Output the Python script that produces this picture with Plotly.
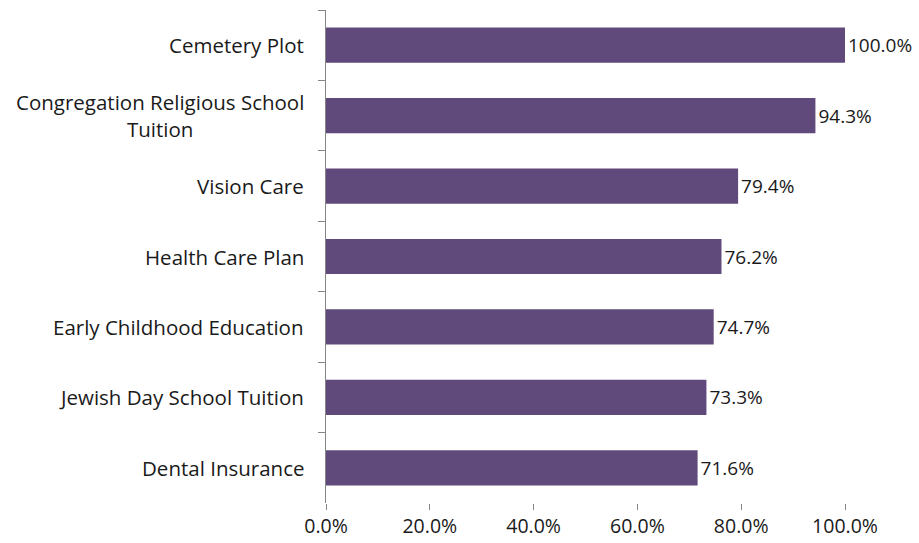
import plotly.graph_objects as go

categories = [
    "Cemetery Plot",
    "Congregation Religious School<br>Tuition",
    "Vision Care",
    "Health Care Plan",
    "Early Childhood Education",
    "Jewish Day School Tuition",
    "Dental Insurance",
]
values = [1.000, 0.943, 0.794, 0.762, 0.747, 0.733, 0.716]
x_ticks = [0, 0.2, 0.4, 0.6, 0.8, 1.0]

_BAR = "#604a7b"
_AXIS = "#868686"
_TEXT = "#1a1a1a"
_FONT = "'Open Sans', sans-serif"

fig = go.Figure(go.Bar(
    x=values, y=categories, orientation="h",
    marker=dict(color=_BAR, line=dict(width=0)),
    text=[f"{v:.1%}" for v in values], textposition="outside",
    textfont=dict(size=19, color=_TEXT, family=_FONT),
    cliponaxis=False))

# category labels as annotations so the wrapped one is centred like the original
for cat in categories:
    fig.add_annotation(x=0, xref="paper", xanchor="right", xshift=-20,
                       y=cat, yref="y", text=cat, showarrow=False,
                       align="center", font=dict(size=20.5, color=_TEXT, family=_FONT))

fig.update_layout(
    width=919, height=543, paper_bgcolor="white", plot_bgcolor="white",
    margin=dict(l=326, r=74, t=10, b=40),
    bargap=0.5, showlegend=False,
    font=dict(family=_FONT, color=_TEXT),
    xaxis=dict(range=[0, 1], tickvals=x_ticks, tickformat=".1%",
               showgrid=False, zeroline=False, showline=False,
               ticks="outside", ticklen=6, tickcolor=_AXIS,
               tickfont=dict(size=19.5), automargin=False),
    yaxis=dict(autorange="reversed", showgrid=False, showline=True,
               linecolor=_AXIS, linewidth=1, ticks="outside",
               tickson="boundaries", ticklen=7, tickcolor=_AXIS,
               showticklabels=False, automargin=False))

# the page body has a default 8px margin; drop it so the figure sits at 0,0
fig.write_html("out.html", config={"displayModeBar": False},
               post_script="document.body.style.margin='0';")
